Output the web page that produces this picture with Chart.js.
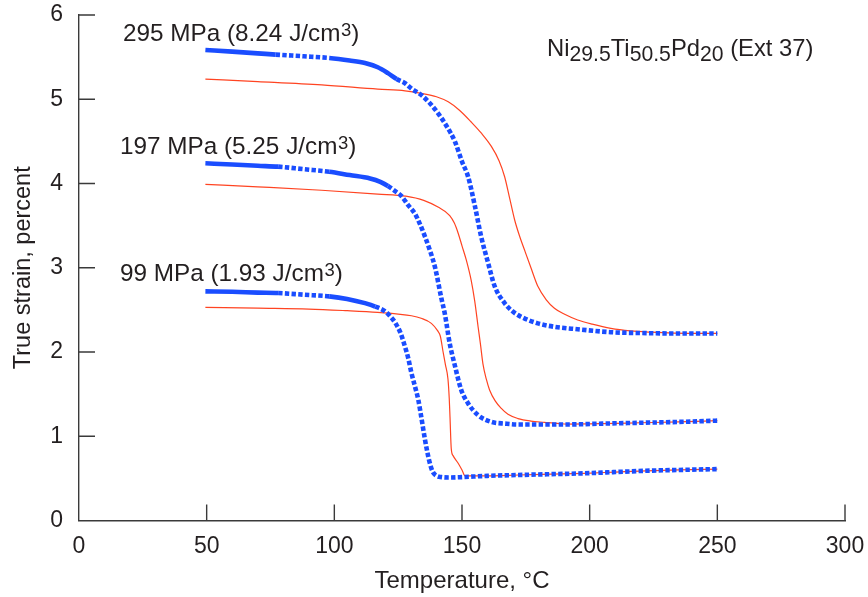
<!DOCTYPE html>
<html>
<head>
<meta charset="utf-8">
<style>
  html, body { margin: 0; padding: 0; background: #ffffff; }
  #wrap { width: 868px; height: 597px; }
</style>
<script src="https://cdn.jsdelivr.net/npm/chart.js@4.4.1/dist/chart.umd.min.js"></script>
</head>
<body>
<div id="wrap"><canvas id="c" width="868" height="597"></canvas></div>
<script>
// Axis ticks
const tempTicks = [0, 50, 100, 150, 200, 250, 300];
const strainTicks = [0, 1, 2, 3, 4, 5, 6];

// Load levels and work output per level
const stressLabels = ['295 MPa', '197 MPa', '99 MPa'];
const workOutput = ['8.24', '5.25', '1.93'];

// Cooling curves [temperature °C, true strain %]
const cooling295 = [[49.5,5.585],[60,5.565],[70,5.545],[77,5.53],[88,5.51],[98,5.49],[106,5.46],[112,5.43],[117,5.38],[121,5.31],[124.4,5.24],[127.7,5.19],[130.5,5.12],[134.1,5.05],[137.5,4.95],[140.7,4.83],[144,4.68],[147.2,4.50],[150,4.26],[152.4,4.08],[155,3.74],[157.5,3.37],[160.2,3.06],[162.8,2.78],[166.7,2.58],[169.5,2.49],[173,2.42],[179.7,2.34],[186,2.30],[195.3,2.27],[208.3,2.235],[220,2.225],[233,2.22],[250,2.22]];
const cooling197 = [[49.5,4.24],[60,4.225],[70,4.21],[78,4.20],[88,4.17],[98,4.14],[106,4.10],[114,4.06],[118,4.02],[121,3.97],[123.8,3.91],[126.3,3.85],[129,3.74],[131.6,3.64],[133.5,3.52],[135.5,3.37],[137.5,3.20],[139.4,3.01],[141.9,2.64],[143.3,2.45],[145.2,2.10],[147.2,1.84],[149.7,1.55],[152.4,1.39],[156.3,1.25],[161.5,1.17],[167,1.15],[172,1.14],[182,1.14],[191,1.14],[205,1.15],[220,1.16],[235,1.17],[250,1.185]];
const cooling99 = [[49.5,2.72],[60,2.715],[70,2.705],[78,2.70],[88,2.68],[98,2.66],[105,2.63],[112,2.58],[116,2.54],[120,2.48],[122,2.42],[124,2.34],[126,2.22],[127.7,2.06],[129,1.92],[130.2,1.75],[131.5,1.60],[132.9,1.43],[134.2,1.20],[135.5,0.96],[136.5,0.80],[137.4,0.68],[138.5,0.58],[140,0.53],[142,0.515],[145,0.51],[150,0.515],[160,0.53],[172,0.54],[185,0.55],[198,0.56],[210,0.575],[222,0.59],[235,0.60],[250,0.61]];

// Heating curves [temperature °C, true strain %]
const heating295 = [[49.5,5.24],[70,5.21],[95.1,5.17],[117,5.12],[127.7,5.10],[134.1,5.07],[140,5.03],[144.6,4.97],[149,4.87],[153.6,4.73],[157.5,4.60],[161.5,4.44],[164.5,4.27],[166.7,4.08],[168.7,3.82],[170.6,3.57],[172.5,3.38],[174.5,3.21],[177,3.00],[179.7,2.78],[183,2.62],[186.2,2.52],[190,2.45],[195.3,2.38],[201,2.33],[208.3,2.28],[216,2.25],[224,2.235],[233,2.225],[250,2.22]];
const heating197 = [[49.5,3.99],[70,3.96],[95,3.92],[117,3.875],[128,3.85],[135,3.80],[140.6,3.72],[145.2,3.62],[147,3.53],[148.5,3.41],[150,3.26],[151.7,3.09],[153.6,2.85],[155,2.60],[156.3,2.30],[157.2,2.10],[158.2,1.86],[159.5,1.68],[160.8,1.55],[163,1.42],[165.4,1.33],[168,1.26],[171.9,1.21],[177,1.18],[182.3,1.165],[188,1.15],[191,1.145],[205,1.15],[220,1.16],[235,1.17],[250,1.185]];
const heating99 = [[49.5,2.53],[70,2.52],[90,2.51],[105,2.49],[117,2.47],[125,2.45],[130.2,2.43],[134,2.40],[138,2.34],[140.5,2.25],[141.5,2.19],[142.6,2.00],[143.5,1.85],[144.5,1.68],[145,1.45],[145.3,1.23],[145.8,0.85],[146.5,0.77],[148.5,0.68],[150,0.60],[151.2,0.53],[160,0.53],[172,0.54],[185,0.55],[198,0.56],[210,0.575],[222,0.59],[235,0.60],[250,0.61]];

const FONT = '"Liberation Sans", Arial, Helvetica, sans-serif';
const INK = '#231f20';
const AXIS = '#3a3a3a';
const BLUE = '#1a4dff';
const RED = '#ff4422';

const toXY = arr => arr.map(([x, y]) => ({ x, y }));

// Cooling data are drawn as a chain of square dots; where the samples
// crowd together the dots merge into a solid band.
function coolingSet(data, solidRanges) {
  return {
    data: toXY(data),
    borderColor: BLUE,
    borderWidth: 4.6,
    borderDash: [],
    borderCapStyle: 'butt',
    pointRadius: 0,
    cubicInterpolationMode: 'monotone',
    order: 0,
    segment: {
      borderDash: ctx => {
        const t = ctx.p0.parsed.x;
        const solid = solidRanges.some(([a, b]) => t >= a && t < b);
        return solid ? [] : [4.4, 2.3];
      }
    }
  };
}

function heatingSet(data) {
  return {
    data: toXY(data),
    borderColor: RED,
    borderWidth: 1.2,
    pointRadius: 0,
    cubicInterpolationMode: 'monotone',
    order: 1
  };
}

// Tick marks point into the plot area
const inwardTicks = {
  id: 'inwardTicks',
  afterDraw(chart) {
    const { ctx, scales: { x, y }, chartArea: a } = chart;
    ctx.save();
    ctx.strokeStyle = AXIS;
    ctx.lineWidth = 1.4;
    ctx.beginPath();
    tempTicks.forEach(v => {
      if (v === 0) return;
      const px = x.getPixelForValue(v);
      ctx.moveTo(px, a.bottom);
      ctx.lineTo(px, a.bottom - 16);
    });
    strainTicks.forEach(v => {
      if (v === 0) return;
      const py = y.getPixelForValue(v);
      ctx.moveTo(a.left, py);
      ctx.lineTo(a.left + 16, py);
    });
    ctx.stroke();
    ctx.restore();
  }
};

// Load labels and alloy designation
const textLabels = {
  id: 'textLabels',
  afterDraw(chart) {
    const { ctx } = chart;
    ctx.save();
    ctx.fillStyle = INK;
    ctx.textBaseline = 'alphabetic';
    ctx.textAlign = 'left';

    const anchors = [[123, 41], [120, 154], [120, 281]];
    stressLabels.forEach((s, i) => {
      const [lx, ly] = anchors[i];
      ctx.font = '24.3px ' + FONT;
      const main = s + ' (' + workOutput[i] + ' J/cm';
      ctx.fillText(main, lx, ly);
      let cx = lx + ctx.measureText(main).width;
      ctx.font = '18.5px ' + FONT;
      ctx.fillText('3', cx + 0.5, ly - 5);
      cx += ctx.measureText('3').width + 0.5;
      ctx.font = '24.3px ' + FONT;
      ctx.fillText(')', cx, ly);
    });

    // Ni29.5Ti50.5Pd20 (Ext 37)
    const parts = [['Ni', 0], ['29.5', 1], ['Ti', 0], ['50.5', 1], ['Pd', 0], ['20', 1], [' (Ext 37)', 0]];
    let px = 547;
    const base = 56;
    parts.forEach(([t, sub]) => {
      ctx.font = (sub ? '21.2px ' : '23.8px ') + FONT;
      ctx.fillText(t, px, sub ? base + 5 : base);
      px += ctx.measureText(t).width;
    });
    ctx.restore();
  }
};

new Chart(document.getElementById('c'), {
  type: 'line',
  data: {
    datasets: [
      coolingSet(cooling295, [[0, 77], [98, 122]]),
      coolingSet(cooling197, [[0, 78], [98, 121]]),
      coolingSet(cooling99, [[0, 78], [98, 116]]),
      heatingSet(heating295),
      heatingSet(heating197),
      heatingSet(heating99)
    ]
  },
  options: {
    responsive: false,
    animation: false,
    devicePixelRatio: 1,
    layout: { padding: { left: 0, right: 23, top: 15, bottom: 0 } },
    plugins: { legend: { display: false }, tooltip: { enabled: false } },
    scales: {
      x: {
        type: 'linear',
        min: 0, max: 300,
        afterBuildTicks: s => { s.ticks = tempTicks.map(v => ({ value: v })); },
        afterFit: s => { s.height = 76.5; s.paddingLeft = 0; s.paddingRight = 0; },
        grid: { drawOnChartArea: false, drawTicks: false },
        border: { display: true, color: AXIS, width: 1.4 },
        ticks: { color: INK, font: { family: FONT, size: 23 }, padding: 12, maxRotation: 0, autoSkip: false },
        title: { display: true, text: 'Temperature, °C', color: INK, font: { family: FONT, size: 24 }, padding: { top: 0, bottom: 1 } }
      },
      y: {
        type: 'linear',
        min: 0, max: 6,
        afterBuildTicks: s => { s.ticks = strainTicks.map(v => ({ value: v })); },
        afterFit: s => { s.width = 79; s.paddingTop = 0; s.paddingBottom = 0; },
        grid: { drawOnChartArea: false, drawTicks: false },
        border: { display: true, color: AXIS, width: 1.4 },
        ticks: { color: INK, font: { family: FONT, size: 23 }, padding: 16, autoSkip: false },
        title: { display: true, text: 'True strain, percent', color: INK, font: { family: FONT, size: 23.5 }, padding: { top: 9, bottom: 0 } }
      }
    }
  },
  plugins: [inwardTicks, textLabels]
});
</script>
</body>
</html>
